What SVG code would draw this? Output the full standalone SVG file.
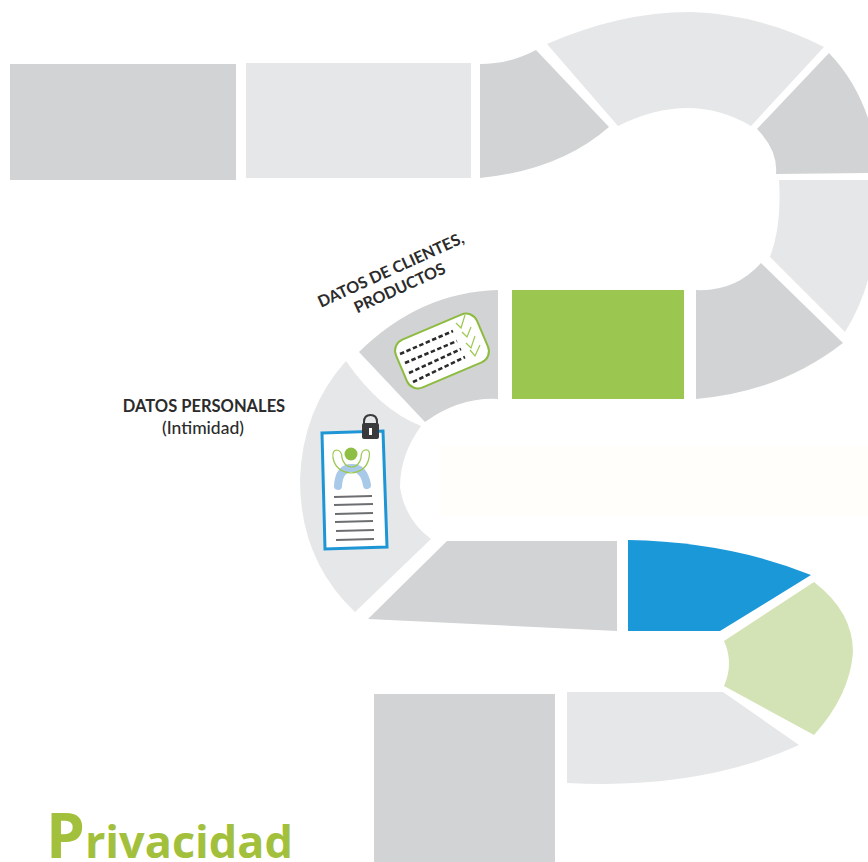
<svg xmlns="http://www.w3.org/2000/svg" width="868" height="862" viewBox="0 0 868 862">
<style>
.g{fill:#d1d3d4}.l{fill:#e6e7e8}
.t{font-family:Lato,"Open Sans",sans-serif;font-weight:700;font-size:16.5px;fill:#2b2b2b;text-anchor:middle}
.d{stroke:#2b2b2b;stroke-width:2.6;stroke-dasharray:4.500 2.500;fill:none}
.c{stroke:#9bc84f;stroke-width:1.2;fill:none}
.r{stroke:#6d6e71;stroke-width:1.8;fill:none}
</style>
<rect width="868" height="862" fill="#fff"/>
<g id="connectors"></g>
<g id="track">
<rect id="s1" class="g" x="10" y="64" width="226" height="116"/>
<rect id="s2" class="l" x="246" y="63" width="225" height="115"/>
<path id="s3" class="g" d="M480 64Q510 64 536 50L609 127Q560 170 480 178Z"/>
<path id="s4" class="l" d="M547 44Q620 12 690 12Q760 14 824 47L751 126Q690 90 618 126Z"/>
<path id="s5" class="g" d="M829 53Q855 80 868 118V173L776 174Q778 150 757 129Z"/>
<path id="s6" class="l" d="M779 180H868V280Q860 308 845 332L770 257Q782 225 779 180Z"/>
<path id="s7" class="g" d="M761 263L843 343Q780 392 696 399V290Q735 292 761 263Z"/>
<rect id="s8" fill="#9bc750" x="512" y="290" width="172" height="109"/>
<path id="s9" class="g" d="M498 290V399Q460 397 425 422L359 352Q420 292 498 290Z"/>
<path id="s10" class="l" d="M346 361Q380 410 421 426Q400 455 400 487Q405 520 431 539L355 612Q300 560 300 480Q302 410 346 361Z"/>
<path id="s11" class="g" d="M447 541H617V631L368 619Z"/>
<path id="s12" fill="#1b98d8" d="M628 540Q730 542 811 575L720 631H628Z"/>
<path id="s13" fill="#d4e3b5" d="M814 582Q853 612 853 652Q850 695 814 735L724 686Q734 663 724 641Z"/>
<path id="s14" class="l" d="M567 692H723L799 745Q700 790 567 783Z"/>
<rect id="s15" class="g" x="374" y="694" width="181" height="168"/>
<rect id="s16" fill="#fffefa" x="440" y="446" width="428" height="70"/>
</g>
<g id="clientes">
<text class="t" font-size="16" style="font-size:16px" transform="translate(393 275) rotate(-24.500)">DATOS DE CLIENTES,</text>
<text class="t" style="font-size:16px" transform="translate(402 293) rotate(-24.500)">PRODUCTOS</text>
<rect x="398" y="325" width="88" height="52" rx="12" transform="rotate(-23 442 351)" fill="#fff" stroke="#8dbb3f" stroke-width="2"/>
<path class="d" d="M400 354L453 331M405 363L457 341M409 373L461 349M413 382L465 357"/>
<path class="c" d="M456 323L461 328L465 315M462 332L467 337L471 327M466 343L471 348L475 336M470 350L475 356L480 345"/>
</g>
<g id="personales">
<text class="t" x="204" y="412">DATOS PERSONALES</text>
<text class="t" style="font-size:17.500px;font-weight:500" x="203" y="434">(Intimidad)</text>
<path fill="#fff" stroke="#1e96d6" stroke-width="3" d="M322 433L383 431L387 547L325 549Z"/>
<path fill="none" stroke="#3a3a3c" stroke-width="2" d="M364 424V422Q364 415 370.500 415Q377 415 377 422V424"/>
<rect x="362" y="423" width="17" height="16" rx="2" fill="#3a3a3c"/>
<rect x="369" y="428" width="3" height="7" fill="#fff"/>
<circle cx="351" cy="454" r="6.500" fill="#8fbe45"/>
<path fill="none" stroke="#a9c9e8" stroke-width="8" stroke-linecap="round" d="M338 486Q339 468 352 468Q364 468 367 485"/>
<path class="c" d="M337 450Q332 450 333 458Q336 472 351 473Q366 472 369 458Q371 449 365 450Q361 451 361 458Q359 467 351 467Q344 466 342 458Q342 451 337 450Z"/>
<path class="r" d="M334 497L372 496M334 505L373 504M335 514L373 513M335 522L373 521M336 531L374 530M336 540L374 539"/>
</g>
<g id="title">
<text x="46" y="858" font-family="'Open Sans','Noto Sans',sans-serif" font-weight="700" fill="#a2c03b"><tspan font-size="62">P</tspan><tspan font-size="45">rivacidad</tspan></text>
</g>
</svg>
